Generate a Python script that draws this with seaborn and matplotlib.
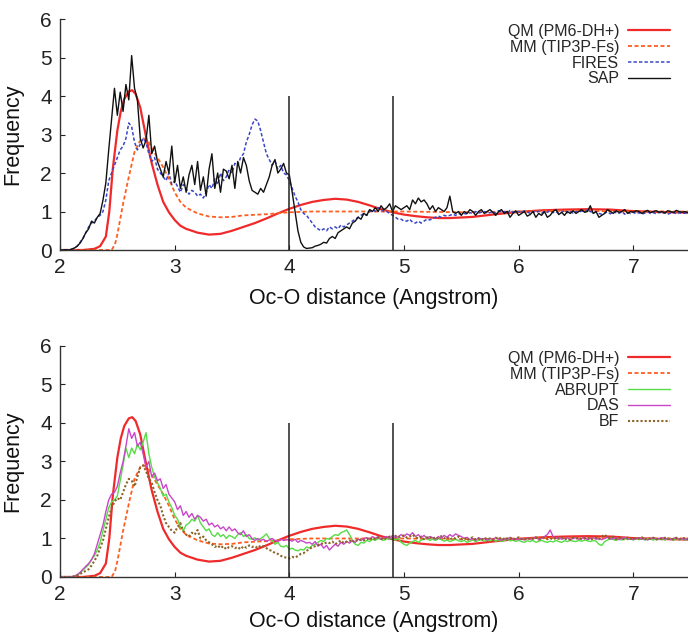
import numpy as np
import matplotlib
matplotlib.use("Agg")
import matplotlib.pyplot as plt
import seaborn as sns

# ---- shared distance grid for the sampled (noisy) distributions ----
r_grid = np.round(np.arange(2.0, 7.5001, 0.025), 3)

# ---- reference curves (smooth) ----
qm_r = [2.0, 2.2, 2.3, 2.35, 2.4, 2.43, 2.46, 2.5, 2.53, 2.56, 2.6, 2.63, 2.66, 2.7,
        2.75, 2.8, 2.85, 2.9, 2.95, 3.0, 3.05, 3.1, 3.2, 3.3, 3.4, 3.5, 3.6, 3.7, 3.8,
        3.9, 4.0, 4.1, 4.2, 4.3, 4.4, 4.5, 4.6, 4.7, 4.8, 4.9, 5.0, 5.1, 5.2, 5.3, 5.4,
        5.6, 5.8, 6.0, 6.2, 6.4, 6.6, 6.8, 7.0, 7.2, 7.5]
qm_g = [0, 0, 0.03, 0.1, 0.35, 1.0, 2.1, 3.1, 3.6, 3.92, 4.12, 4.15, 4.05, 3.7,
        2.95, 2.25, 1.7, 1.25, 0.98, 0.78, 0.63, 0.55, 0.45, 0.4, 0.42, 0.5, 0.6, 0.7, 0.82,
        0.95, 1.07, 1.17, 1.25, 1.3, 1.33, 1.31, 1.25, 1.16, 1.06, 0.98, 0.92, 0.88, 0.85, 0.83, 0.83,
        0.86, 0.93, 0.99, 1.03, 1.05, 1.06, 1.05, 1.01, 0.99, 0.97]

mm_r = [2.0, 2.45, 2.48, 2.5, 2.55, 2.6, 2.65, 2.7, 2.73, 2.77, 2.8, 2.85, 2.9, 2.95,
        3.0, 3.05, 3.1, 3.2, 3.3, 3.4, 3.5, 3.6, 3.8, 4.0, 4.2, 4.5, 5.0, 5.5, 6.0, 6.5,
        7.0, 7.5]
mm_g = [0, 0, 0.15, 0.4, 1.2, 1.9, 2.55, 2.85, 2.9, 2.82, 2.65, 2.4, 2.15, 1.85,
        1.5, 1.25, 1.1, 0.95, 0.87, 0.85, 0.86, 0.9, 0.93, 0.98, 1.0, 1.0, 1.0, 0.98, 1.0, 1.02,
        1.0, 1.0]

# ---- adaptive QM/MM schemes, upper panel ----
fires_g = [
    0, 0, 0, 0, 0.02, 0.05, 0.1, 0.2, 0.3, 0.45,
    0.6, 0.7, 0.75, 0.85, 0.9, 1.0, 1.3, 1.8, 2.0, 2.2,
    2.4, 2.6, 2.7, 2.9, 3.3, 3.2, 2.8, 2.6, 2.75, 2.9,
    2.8, 2.5, 2.3, 2.4, 2.1, 2.0, 1.9, 1.8, 2.0, 1.7,
    1.8, 1.65, 1.5, 1.7, 1.6, 1.45, 1.55, 1.5, 1.4, 1.45,
    1.35, 1.5, 1.7, 1.6, 1.85, 1.7, 2.0, 1.8, 1.9, 2.1,
    2.0, 2.25, 2.2, 2.4, 2.5, 2.8, 3.0, 3.25, 3.4, 3.35,
    3.1, 2.8, 2.5, 2.35, 2.2, 2.3, 2.1, 2.2, 2.0, 1.95,
    1.8, 1.6, 1.4, 1.25, 1.05, 0.95, 0.9, 0.8, 0.7, 0.6,
    0.55, 0.5, 0.55, 0.5, 0.6, 0.55, 0.6, 0.55, 0.65, 0.6,
    0.65, 0.7, 0.75, 0.8, 0.85, 0.9, 0.95, 0.9, 1.0, 1.05,
    1.0, 1.1, 1.05, 1.0, 1.0, 0.95, 0.9, 0.85, 0.8, 0.8,
    0.75, 0.75, 0.8, 0.72, 0.7, 0.75, 0.7, 0.75, 0.8, 0.78,
    0.82, 0.85, 0.88, 0.85, 0.9, 0.88, 0.9, 0.93, 0.9, 0.95,
    0.92, 0.95, 0.93, 0.97, 0.95, 1.0, 0.96, 0.98, 1.0, 0.95,
    0.97, 1.0, 0.95, 1.02, 0.98, 1.0, 0.96, 1.03, 0.98, 1.0,
    1.0, 0.97, 1.02, 0.99, 0.95, 1.0, 0.97, 1.01, 0.96, 1.0,
    0.98, 1.02, 0.97, 1.0, 0.95, 0.98, 1.03, 0.97, 1.0, 0.96,
    1.0, 0.97, 1.02, 0.98, 1.05, 1.0, 0.96, 0.99, 0.95, 0.93,
    0.96, 0.99, 0.94, 1.0, 0.97, 0.95, 1.0, 0.93, 0.97, 0.95,
    0.98, 0.94, 0.97, 0.93, 0.96, 0.99, 0.95, 0.97, 0.94, 0.98,
    0.95, 0.97, 0.93, 0.96, 0.98, 0.94, 0.97, 0.95, 0.96, 0.94,
    0.96]

sap_g = [
    0, 0, 0.01, 0, 0.02, 0.05, 0.1, 0.18, 0.3, 0.45,
    0.55, 0.75, 0.7, 0.85, 0.95, 1.3, 1.75, 2.6, 3.4, 4.2,
    3.5, 4.1, 3.6, 4.3, 3.9, 5.05, 4.2, 3.9, 2.9, 2.65,
    2.85, 3.5, 2.5, 2.7, 2.3, 2.1, 1.9, 2.3, 2.0, 2.7,
    1.75, 2.2, 1.6, 1.9, 1.5, 1.95, 2.2, 1.7, 2.3, 1.55,
    1.9, 1.4, 2.1, 2.5, 1.6, 2.0, 1.5, 2.1, 2.05, 1.85,
    2.2, 1.6, 2.3, 2.0, 2.4, 2.2, 1.8, 1.55, 1.5, 1.45,
    1.6, 1.5, 1.7, 1.9, 2.2, 2.35, 2.0, 2.1, 2.25, 2.0,
    1.95, 1.5, 1.0, 0.5, 0.2, 0.08, 0.04, 0.05, 0.06, 0.1,
    0.12, 0.15, 0.2, 0.18, 0.3, 0.35, 0.3, 0.45, 0.5, 0.55,
    0.6, 0.55, 0.7, 0.75, 0.85, 0.8, 0.95, 0.9, 1.05, 1.0,
    1.1, 1.0, 1.15, 1.05, 1.1, 1.2, 1.0, 1.15, 1.1, 1.05,
    1.1, 1.15, 1.05, 1.3, 1.2, 1.35, 1.25, 1.3, 1.2, 1.05,
    1.15, 1.0, 1.1, 1.05, 1.0, 1.1, 1.4, 1.0, 0.95, 1.0,
    0.9, 1.0, 0.95, 1.05, 1.0, 0.9, 1.0, 1.05, 0.95, 1.0,
    1.05, 0.98, 0.9, 1.0, 1.05, 0.95, 1.0, 0.85, 0.95, 1.02,
    0.9, 0.95, 1.0, 0.88, 0.92, 1.0, 0.85, 0.95, 0.9, 1.0,
    0.85, 0.9, 1.0, 1.05, 0.92, 0.98, 0.9, 1.0, 0.95, 1.02,
    0.95, 1.0, 1.05, 0.98, 1.0, 1.15, 0.95, 1.0, 0.85, 0.9,
    0.95, 1.05, 1.0, 0.95, 1.02, 0.98, 1.0, 1.05, 0.95, 1.0,
    0.98, 1.02, 1.0, 0.95, 1.0, 1.03, 0.97, 1.0, 1.02, 0.98,
    1.0, 0.96, 1.02, 1.0, 0.97, 1.03, 1.0, 0.98, 1.0, 0.97,
    1.0]

# ---- adaptive QM/MM schemes, lower panel ----
abrupt_g = [
    0, 0, 0, 0, 0, 0.02, 0.05, 0.1, 0.18, 0.25,
    0.32, 0.45, 0.55, 0.7, 0.9, 1.2, 1.5, 1.8, 1.95, 2.0,
    2.1, 2.5, 2.9, 3.35, 3.1, 3.35, 3.2, 3.45, 3.3, 3.5,
    3.75, 3.2, 2.85, 2.6, 2.45, 2.3, 2.1, 2.15, 1.95, 1.8,
    1.6, 1.5, 1.3, 1.2, 1.35, 1.4, 1.5, 1.45, 1.6, 1.4,
    1.3, 1.2, 1.25, 1.1, 1.05, 1.15, 1.05, 1.1, 1.0, 1.08,
    1.05, 1.0, 1.1, 1.15, 1.05, 1.1, 1.0, 0.98, 1.02, 0.95,
    1.0, 1.05, 1.12, 1.0, 0.95, 0.85, 0.9, 0.8, 0.78, 0.82,
    0.72, 0.75, 0.7, 0.68, 0.72, 0.7, 0.78, 0.75, 0.82, 0.85,
    0.9, 0.95, 0.92, 1.0, 0.98, 1.05, 1.1, 1.08, 1.15, 1.18,
    1.22, 1.1, 0.95, 0.85, 0.82, 0.9, 0.88, 0.95, 0.92, 0.98,
    0.95, 1.0, 0.97, 0.95, 1.0, 0.98, 1.02, 0.95, 1.0, 0.9,
    0.85, 0.82, 0.88, 0.92, 0.95, 0.9, 0.96, 0.98, 1.0, 0.95,
    0.98, 0.95, 1.0, 0.97, 0.93, 0.96, 0.92, 0.95, 0.98, 0.94,
    0.92, 0.95, 0.9, 0.93, 0.96, 0.92, 0.95, 0.97, 0.93, 0.96,
    0.94, 0.97, 0.93, 0.96, 0.92, 0.95, 0.98, 0.94, 0.96, 0.92,
    0.95, 0.92, 0.9, 0.94, 0.92, 0.95, 0.9, 0.93, 0.95, 0.92,
    0.9, 0.93, 0.91, 0.95, 0.92, 0.9, 0.94, 0.92, 0.95, 0.93,
    0.92, 0.95, 0.93, 0.96, 0.94, 0.92, 0.95, 0.93, 0.85, 0.82,
    0.92, 0.96, 1.0, 0.97, 0.95, 0.98, 0.96, 1.0, 0.97, 0.99,
    0.96, 1.0, 0.97, 0.99, 0.96, 1.0, 0.98, 0.96, 1.0, 0.97,
    0.99, 0.96, 1.0, 0.98, 0.96, 1.0, 0.97, 0.99, 0.96, 0.98,
    0.98]

das_g = [
    0, 0, 0, 0, 0, 0.02, 0.06, 0.12, 0.2, 0.28,
    0.35, 0.45, 0.6, 0.85, 1.1, 1.35, 1.7, 2.0, 2.15, 2.2,
    2.35, 2.7, 3.0, 3.4, 3.85, 3.6, 3.75, 3.4, 3.5, 3.2,
    2.85, 3.0, 2.6, 2.7, 2.5, 2.55, 2.3, 2.4, 2.15, 2.05,
    1.95, 1.75, 1.85, 1.6, 1.7, 1.55, 1.65, 1.5, 1.6, 1.55,
    1.45, 1.5, 1.35, 1.4, 1.3, 1.35, 1.25, 1.3, 1.2, 1.3,
    1.2, 1.25, 1.15, 1.1, 1.2, 1.05, 1.1, 1.0, 0.95, 1.0,
    0.95, 0.98, 0.92, 0.96, 1.0, 0.95, 0.92, 0.98, 0.95, 0.97,
    0.96, 0.93, 0.98, 0.9, 0.95, 0.92, 0.88, 0.9, 0.85, 0.92,
    0.8, 0.85, 0.75, 0.82, 0.7, 0.78, 0.85, 0.8, 0.9, 0.85,
    0.92, 0.88, 0.95, 0.9, 0.98, 0.95, 1.0, 1.02, 0.98, 1.05,
    1.0, 1.05, 0.98, 1.02, 1.05, 1.0, 1.08, 1.02, 1.05, 1.1,
    1.05, 1.12, 1.08, 1.15, 1.05, 1.1, 1.02, 1.08, 1.0, 1.05,
    1.02, 0.98, 1.05, 1.0, 1.08, 1.03, 1.1, 1.05, 1.12, 1.08,
    1.05, 1.0, 1.03, 0.97, 1.0, 0.95, 1.02, 0.98, 1.0, 0.96,
    1.0, 0.97, 1.02, 0.98, 0.95, 1.0, 0.97, 1.03, 0.98, 1.0,
    0.97, 1.0, 0.96, 1.02, 0.98, 1.0, 1.03, 0.98, 1.0, 1.05,
    1.1, 1.22, 1.05, 1.0, 1.03, 0.98, 1.0, 1.02, 0.97, 1.0,
    1.02, 0.98, 1.0, 1.03, 0.97, 1.0, 1.02, 0.98, 1.0, 0.97,
    1.0, 1.03, 0.98, 1.0, 1.02, 0.97, 1.0, 1.03, 0.99, 1.0,
    0.97, 1.0, 1.02, 0.98, 1.0, 0.96, 1.0, 1.02, 0.98, 1.0,
    1.02, 0.98, 1.0, 0.97, 1.0, 1.02, 0.98, 1.0, 0.97, 1.0,
    1.0]

bf_g = [
    0, 0, 0, 0, 0, 0.02, 0.04, 0.08, 0.12, 0.16,
    0.2, 0.3, 0.42, 0.55, 0.75, 0.95, 1.25, 1.55, 1.8, 1.95,
    2.05, 2.0, 2.2, 2.4, 2.55, 2.5, 2.35, 2.6, 2.85, 2.9,
    2.75, 2.55, 2.45, 2.2, 2.0, 1.85, 1.6, 1.4, 1.3, 1.2,
    1.15, 1.3, 1.4, 1.2, 1.1, 1.05, 1.15, 1.1, 1.22, 1.0,
    1.05, 0.95, 0.9, 0.85, 0.78, 0.82, 0.75, 0.8, 0.72, 0.78,
    0.8, 0.75, 0.78, 0.72, 0.8, 0.76, 0.82, 0.78, 0.8, 0.75,
    0.82, 0.8, 0.75, 0.7, 0.68, 0.62, 0.6, 0.55, 0.52, 0.5,
    0.48, 0.52, 0.5, 0.55, 0.6, 0.62, 0.68, 0.72, 0.78, 0.8,
    0.83, 0.88, 0.85, 0.9, 0.88, 0.92, 0.85, 0.9, 0.95, 0.88,
    0.92, 0.95, 0.9, 0.97, 0.93, 0.98, 0.95, 1.0, 0.96, 1.02,
    0.98, 1.03, 1.0, 0.97, 1.02, 1.05, 1.0, 1.07, 1.02, 1.05,
    1.08, 1.02, 1.05, 1.1, 1.03, 1.0, 1.05, 0.98, 1.03, 1.0,
    1.05, 0.98, 1.02, 1.06, 1.0, 1.04, 0.97, 1.02, 1.0, 1.05,
    0.98, 1.02, 0.95, 1.0, 1.03, 0.97, 1.0, 0.95, 1.02, 0.98,
    1.0, 0.96, 1.02, 0.98, 1.03, 0.97, 1.0, 1.02, 0.96, 1.0,
    1.03, 0.98, 1.0, 0.96, 1.02, 0.99, 1.03, 0.97, 1.0, 1.02,
    0.98, 1.01, 0.97, 1.02, 0.99, 1.03, 0.98, 1.0, 0.97, 1.02,
    0.99, 1.02, 0.98, 1.0, 1.03, 0.97, 1.0, 1.02, 0.98, 1.05,
    1.1, 1.03, 1.0, 1.05, 0.98, 1.02, 1.0, 0.97, 1.02, 0.99,
    1.02, 0.98, 1.0, 1.03, 0.97, 1.01, 0.99, 1.02, 0.97, 1.0,
    0.98, 1.02, 0.99, 1.0, 0.97, 1.02, 0.98, 1.0, 1.01, 0.98,
    0.99]

# boundaries of the inner / buffer regions
region_bounds = [4.0, 4.9]
bound_height = 4.0

x_ticks = [2, 3, 4, 5, 6, 7]
y_ticks = [0, 1, 2, 3, 4, 5, 6]

# ---------------------------------------------------------------------------
sns.set_style("ticks")
plt.rcParams["font.family"] = ["Liberation Sans", "DejaVu Sans"]

fig = plt.figure(figsize=(6.88, 6.36), dpi=100)
ax_top = fig.add_axes([60 / 688, 0.6069, 628 / 688, 0.3632])
ax_bot = fig.add_axes([60 / 688, 0.0928, 628 / 688, 0.3632])

RED = "#f02a2a"
ORANGE = "#ff5e1f"
BLUE = "#3a46c8"
GREEN = "#55dd44"
MAGENTA = "#c846c8"
BROWN = "#8a6428"

dash_short = (0, (2.2, 1.4))


def draw_reference(ax):
    sns.lineplot(x=qm_r, y=qm_g, ax=ax, color=RED, lw=1.6,
                 label="QM (PM6-DH+)")
    sns.lineplot(x=mm_r, y=mm_g, ax=ax, color=ORANGE, lw=1.3,
                 linestyle=dash_short, label="MM (TIP3P-Fs)")


draw_reference(ax_top)
sns.lineplot(x=r_grid, y=fires_g, ax=ax_top, color=BLUE, lw=1.1,
             linestyle=dash_short, label="FIRES")
sns.lineplot(x=r_grid, y=sap_g, ax=ax_top, color="#111111", lw=1.0,
             label="SAP")

draw_reference(ax_bot)
sns.lineplot(x=r_grid, y=abrupt_g, ax=ax_bot, color=GREEN, lw=1.0,
             label="ABRUPT")
sns.lineplot(x=r_grid, y=das_g, ax=ax_bot, color=MAGENTA, lw=1.0,
             label="DAS")
sns.lineplot(x=r_grid, y=bf_g, ax=ax_bot, color=BROWN, lw=1.5,
             linestyle=(0, (1, 1)), label="BF")

for ax, xpad in ((ax_top, 8), (ax_bot, 5)):
    for xb in region_bounds:
        ax.vlines(xb, 0, bound_height, color="#222222", lw=1.1, zorder=5)
    ax.set_xlim(2, 7.477)
    ax.set_ylim(0, 6)
    ax.set_xticks(x_ticks)
    ax.set_yticks(y_ticks)
    ax.tick_params(direction="in", length=3.5, width=0.8, labelsize=15,
                   colors="#222222", pad=6)
    for side in ("top", "right"):
        ax.spines[side].set_visible(False)
    for side in ("left", "bottom"):
        ax.spines[side].set_color("#333333")
        ax.spines[side].set_linewidth(1.0)
    ax.set_xlabel("Oc-O distance (Angstrom)", fontsize=15.5, labelpad=xpad,
                  color="#111111")
    ax.set_ylabel("Frequency", fontsize=15.5, labelpad=12, color="#111111")
    ax.legend(loc="upper right", bbox_to_anchor=(0.986, 1.02), frameon=False,
              markerfirst=False, fontsize=11.5, handlelength=2.6,
              handletextpad=0.55, labelspacing=0.05, borderaxespad=0.2)

fig.savefig("out.png", dpi=100)
